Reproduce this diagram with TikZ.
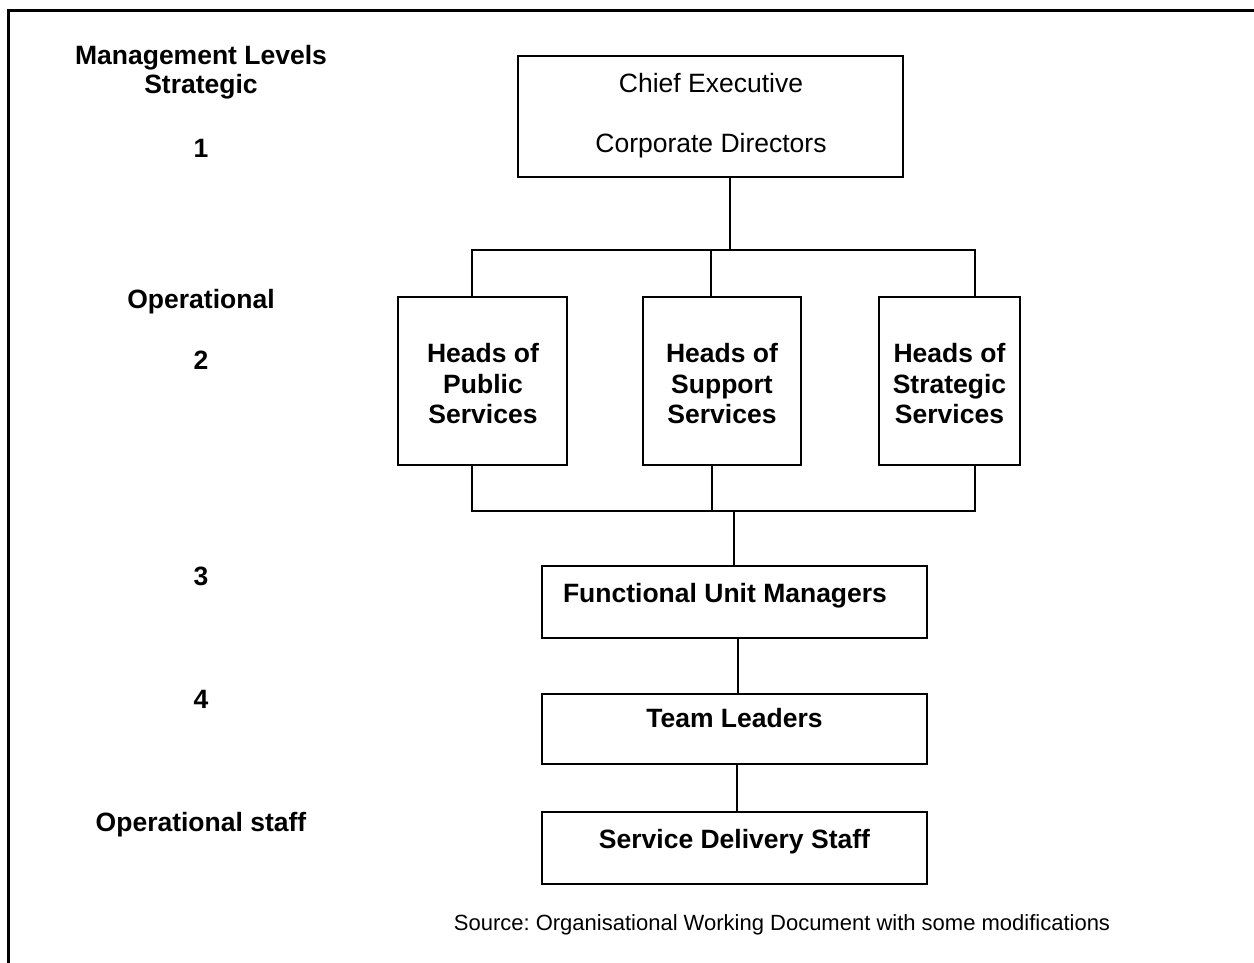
\documentclass[tikz,border=0pt]{standalone}
\usepackage{fontspec}
\setmainfont{Liberation Sans}
\frenchspacing
\begin{document}
\begin{tikzpicture}[x=1pt,y=-1pt,
  box/.style={draw=black,line width=2pt,inner sep=0pt,minimum width=#1},
  lbl/.style={anchor=base,inner sep=0pt,font=\fontsize{26.5}{30}\selectfont\bfseries},
  txt/.style={anchor=base,inner sep=0pt,font=\fontsize{26.5}{30}\selectfont},
  src/.style={anchor=base,inner sep=0pt,font=\fontsize{22}{26}\selectfont},
  link/.style={line width=2pt,line cap=rect}]
\useasboundingbox (0,0) rectangle (1254,962);
% outer frame (extends past right and bottom edges)
\draw[line width=2.5pt] (8.5,980) -- (8.5,10.5) -- (1270,10.5);
% left labels
\node[lbl] (ml) at (201,64) {Management Levels};
\node[lbl] (st) at (201,93) {Strategic};
\node[lbl] (l1) at (201,157) {1};
\node[lbl] (op) at (201,308) {Operational};
\node[lbl] (l2) at (201,369) {2};
\node[lbl] (l3) at (201,585) {3};
\node[lbl] (l4) at (201,708) {4};
\node[lbl] (os) at (201,831) {Operational staff};
% boxes
\node[box=385pt,minimum height=121pt] (top) at (710.5,116.5) {};
\node[box=169pt,minimum height=168pt] (pub) at (482.5,381) {};
\node[box=158pt,minimum height=168pt] (sup) at (722,381) {};
\node[box=141pt,minimum height=168pt] (str) at (949.5,381) {};
\node[box=385pt,minimum height=72pt] (fum) at (734.5,602) {};
\node[box=385pt,minimum height=70pt] (tl) at (734.5,729) {};
\node[box=385pt,minimum height=72pt] (sds) at (734.5,848) {};
% box texts
\node[txt] (ce) at (711,92) {Chief Executive};
\node[txt] (cd) at (711,152) {Corporate Directors};
\node[lbl] (p1) at (483,362) {Heads of};
\node[lbl] (p2) at (483,393) {Public};
\node[lbl] (p3) at (483,423) {Services};
\node[lbl] (s1) at (722,362) {Heads of};
\node[lbl] (s2) at (722,393) {Support};
\node[lbl] (s3) at (722,423) {Services};
\node[lbl] (t1) at (949.5,362) {Heads of};
\node[lbl] (t2) at (949.5,393) {Strategic};
\node[lbl] (t3) at (949.5,423) {Services};
\node[lbl] (fumt) at (725,602) {Functional Unit Managers};
\node[lbl] (tlt) at (734.5,727) {Team Leaders};
\node[lbl] (sdst) at (734.5,848) {Service Delivery Staff};
\node[src] (source) at (782,930) {Source: Organisational Working Document with some modifications};
% junction coordinates
\coordinate (busT) at (730,250);
\coordinate (busTL) at (472,250);
\coordinate (busTM) at (711,250);
\coordinate (busTR) at (975,250);
\coordinate (busB) at (734,511);
\coordinate (busBL) at (472,511);
\coordinate (busBM) at (712,511);
\coordinate (busBR) at (975,511);
% connectors
\draw[link] (top.south -| busT) -- (busT);
\draw[link] (busTL) -- (busTR);
\draw[link] (busTL) -- (pub.north -| busTL);
\draw[link] (busTM) -- (sup.north -| busTM);
\draw[link] (busTR) -- (str.north -| busTR);
\draw[link] (pub.south -| busBL) -- (busBL);
\draw[link] (sup.south -| busBM) -- (busBM);
\draw[link] (str.south -| busBR) -- (busBR);
\draw[link] (busBL) -- (busBR);
\draw[link] (busB) -- (fum.north -| busB);
\draw[link] (fum.south -| 738,0) -- (tl.north -| 738,0);
\draw[link] (tl.south -| 737,0) -- (sds.north -| 737,0);
\end{tikzpicture}
\end{document}
